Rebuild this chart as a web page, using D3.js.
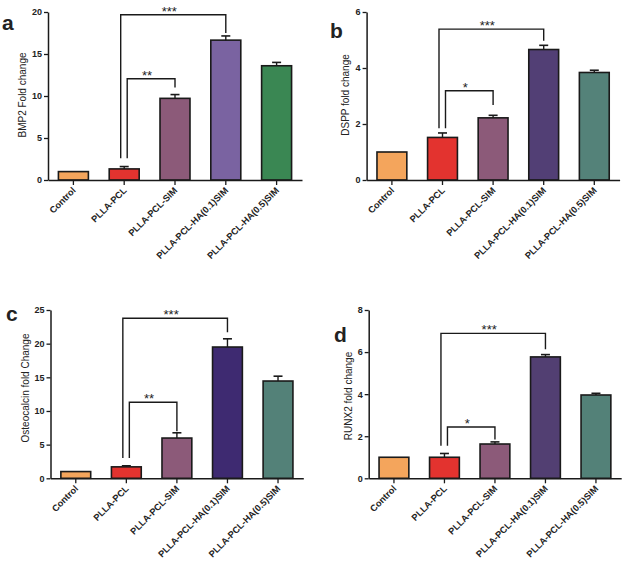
<!DOCTYPE html>
<html>
<head>
<meta charset="utf-8">
<script src="https://cdn.jsdelivr.net/npm/d3@7"></script>
<style>
  html, body { margin: 0; padding: 0; background: #fff; }
  svg { display: block; }
  text { font-family: "Liberation Sans", Arial, sans-serif; fill: #222; }
</style>
</head>
<body>
<svg id="chart" width="627" height="571"></svg>
<script>
// ---------- data ----------
const categories = ["Control", "PLLA-PCL", "PLLA-PCL-SIM", "PLLA-PCL-HA(0.1)SIM", "PLLA-PCL-HA(0.5)SIM"];

const bmp2Values = [1.0, 1.32, 9.72, 16.65, 13.6];
const bmp2Errors = [0, 0.28, 0.45, 0.5, 0.4];
const bmp2Ticks = [0, 5, 10, 15, 20];
const bmp2Sig = [
  { from: 1, to: 3, top: 19.68, leftEnd: 2.6, rightEnd: 17.5, label: "***" },
  { from: 1, to: 2, top: 12.05, leftEnd: 2.6, rightEnd: 11.0, label: "**" }
];

const dsppValues = [1.0, 1.52, 2.22, 4.66, 3.84];
const dsppErrors = [0, 0.16, 0.09, 0.15, 0.08];
const dsppTicks = [0, 2, 4, 6];
const dsppSig = [
  { from: 1, to: 3, top: 5.39, leftEnd: 1.85, rightEnd: 4.97, label: "***" },
  { from: 1, to: 2, top: 3.19, leftEnd: 1.85, rightEnd: 2.68, label: "*" }
];

const ocnValues = [1.0, 1.7, 5.98, 19.5, 14.45];
const ocnErrors = [0, 0.16, 0.78, 1.22, 0.72];
const ocnTicks = [0, 5, 10, 15, 20, 25];
const ocnSig = [
  { from: 1, to: 3, top: 23.77, leftEnd: 3.0, rightEnd: 21.7, label: "***" },
  { from: 1, to: 2, top: 11.3, leftEnd: 3.0, rightEnd: 7.0, label: "**" }
];

const runx2Values = [1.0, 1.0, 1.63, 5.77, 3.96];
const runx2Errors = [0, 0.18, 0.1, 0.11, 0.08];
const runx2Ticks = [0, 2, 4, 6, 8];
const runx2Sig = [
  { from: 1, to: 3, top: 6.89, leftEnd: 1.55, rightEnd: 6.13, label: "***" },
  { from: 1, to: 2, top: 2.44, leftEnd: 1.55, rightEnd: 1.85, label: "*" }
];

// ---------- layout / style ----------
const panels = [
  { letter: "a", ylabel: "BMP2 Fold change", values: bmp2Values, errors: bmp2Errors, ticks: bmp2Ticks, sig: bmp2Sig,
    x0: 48, x1: 302, yTop: 12, yBot: 180, letterX: 2, letterY: 30, ylabX: 26, ylabY: 95,
    colors: ["#f4a55c", "#e3332f", "#8c5a79", "#7a63a1", "#3a8753"] },
  { letter: "b", ylabel: "DSPP fold change", values: dsppValues, errors: dsppErrors, ticks: dsppTicks, sig: dsppSig,
    x0: 366.6, x1: 619.6, yTop: 12, yBot: 180, letterX: 330, letterY: 37.5, ylabX: 349, ylabY: 95,
    colors: ["#f4a55c", "#e3332f", "#8c5a79", "#523f75", "#548279"] },
  { letter: "c", ylabel: "Osteocalcin fold Change", values: ocnValues, errors: ocnErrors, ticks: ocnTicks, sig: ocnSig,
    x0: 50.5, x1: 303.3, yTop: 310, yBot: 478.3, letterX: 6, letterY: 320.5, ylabX: 28.5, ylabY: 388,
    colors: ["#f4a55c", "#e3332f", "#8c5a79", "#3e2a71", "#538178"] },
  { letter: "d", ylabel: "RUNX2 fold change", values: runx2Values, errors: runx2Errors, ticks: runx2Ticks, sig: runx2Sig,
    x0: 368.7, x1: 621.2, yTop: 310, yBot: 478.3, letterX: 334, letterY: 341.5, ylabX: 351.5, ylabY: 396,
    colors: ["#f4a55c", "#e3332f", "#8c5a79", "#523f72", "#538178"] }
];

const svg = d3.select("#chart");
svg.append("rect").attr("width", 627).attr("height", 571).attr("fill", "#fff");

panels.forEach(p => {
  const g = svg.append("g");
  const x = d3.scaleBand().domain(categories).range([p.x0, p.x1]).paddingInner(0.41).paddingOuter(0.205);
  const y = d3.scaleLinear().domain([0, d3.max(p.ticks)]).range([p.yBot, p.yTop]);

  // bars
  g.selectAll("rect.bar").data(p.values).enter().append("rect")
    .attr("class", "bar")
    .attr("x", (d, i) => x(categories[i]))
    .attr("width", x.bandwidth())
    .attr("y", d => y(d))
    .attr("height", d => y(0) - y(d))
    .attr("fill", (d, i) => p.colors[i])
    .attr("stroke", "#1a1a1a")
    .attr("stroke-width", 1.6);

  // error bars
  p.values.forEach((v, i) => {
    const e = p.errors[i];
    if (!e) return;
    const cx = x(categories[i]) + x.bandwidth() / 2;
    g.append("line").attr("x1", cx).attr("x2", cx).attr("y1", y(v)).attr("y2", y(v + e))
      .attr("stroke", "#1a1a1a").attr("stroke-width", 1.4);
    g.append("line").attr("x1", cx - 4.5).attr("x2", cx + 4.5).attr("y1", y(v + e)).attr("y2", y(v + e))
      .attr("stroke", "#1a1a1a").attr("stroke-width", 1.6);
  });

  // y axis
  const yAxis = d3.axisLeft(y).tickValues(p.ticks).tickFormat(d3.format("d")).tickSize(4).tickPadding(2).tickSizeOuter(0);
  const ya = g.append("g").attr("transform", `translate(${p.x0},0)`).call(yAxis);
  ya.select(".domain").attr("stroke", "#1a1a1a").attr("stroke-width", 1.5);
  ya.selectAll(".tick line").attr("stroke", "#1a1a1a").attr("stroke-width", 1.3);
  ya.selectAll(".tick text").attr("font-size", 9).attr("font-weight", "bold")
    .attr("font-family", "Liberation Sans, Arial, sans-serif").attr("fill", "#333");

  // x axis
  const xAxis = d3.axisBottom(x).tickSize(5).tickSizeOuter(0).tickFormat("");
  const xa = g.append("g").attr("transform", `translate(0,${p.yBot})`).call(xAxis);
  xa.select(".domain").attr("stroke", "#1a1a1a").attr("stroke-width", 1.5);
  xa.selectAll(".tick line").attr("stroke", "#1a1a1a").attr("stroke-width", 1.3);
  xa.selectAll(".tick").append("text")
    .text(d => d)
    .attr("text-anchor", "end")
    .attr("transform", "translate(3,11) rotate(-45)")
    .attr("font-size", 9.2)
    .attr("font-weight", "bold")
    .attr("fill", "#333");

  // y label
  g.append("text")
    .attr("transform", `translate(${p.ylabX},${p.ylabY}) rotate(-90)`)
    .attr("text-anchor", "middle")
    .attr("font-size", 10)
    .attr("fill", "#222")
    .text(p.ylabel);

  // panel letter
  g.append("text")
    .attr("x", p.letterX).attr("y", p.letterY)
    .attr("font-family", "Liberation Serif, Times New Roman, serif")
    .attr("font-weight", "bold")
    .attr("font-size", 21)
    .attr("fill", "#111")
    .text(p.letter);

  // significance brackets
  const legOffsets = [-3.5, 3];
  p.sig.forEach((s, k) => {
    const xl = x(categories[s.from]) + x.bandwidth() / 2 + legOffsets[k];
    const xr = x(categories[s.to]) + x.bandwidth() / 2;
    const path = d3.path();
    path.moveTo(xl, y(s.leftEnd));
    path.lineTo(xl, y(s.top));
    path.lineTo(xr, y(s.top));
    path.lineTo(xr, y(s.rightEnd));
    g.append("path").attr("d", path.toString()).attr("fill", "none")
      .attr("stroke", "#1a1a1a").attr("stroke-width", 1.4);
    g.append("text")
      .attr("x", (xl + xr) / 2 - 4).attr("y", y(s.top) + 1)
      .attr("text-anchor", "middle")
      .attr("font-size", 13)
      .attr("fill", "#333")
      .text(s.label);
  });
});
</script>
</body>
</html>
